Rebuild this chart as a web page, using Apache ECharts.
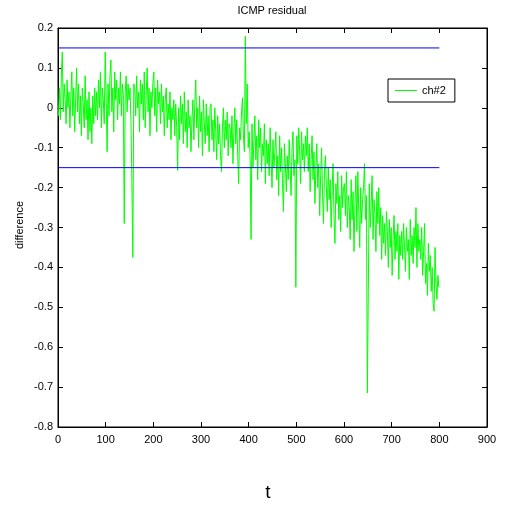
<!DOCTYPE html>
<html>
<head>
<meta charset="utf-8">
<script src="https://cdn.jsdelivr.net/npm/echarts@6/dist/echarts.min.js"></script>
<style>html,body{margin:0;padding:0;background:#fff;}#c{width:523px;height:507px;}</style>
</head>
<body>
<div id="c"></div>
<script>
// ---- data ----
var chartTitle = 'ICMP residual';
var xLabel = 't';
var yLabel = 'difference';
var seriesName = 'ch#2';
var tStart = 1, tStep = 2;
var residual = [
 -0.02, 0.05, -0.03, 0.08, 0.14, -0.01, 0.06, 0.02, -0.04, 0.07, 0.00, 0.04, -0.05, 0.03, 0.09, -0.02, 0.05, -0.06, 0.02, 0.10,
 -0.01, 0.06, -0.04, 0.03, -0.07, 0.05, 0.01, -0.05, 0.08, -0.03, 0.02, -0.08, 0.04, -0.06, 0.00, -0.09, 0.03, -0.04, 0.05, -0.02,
 0.04, -0.03, 0.07, 0.00, 0.09, -0.05, 0.05, 0.02, -0.04, 0.14, 0.03, -0.11, 0.06, -0.02, 0.08, 0.12, -0.01, 0.05, -0.06, 0.09,
 0.02, 0.07, -0.03, 0.05, 0.01, 0.09, -0.02, 0.06, 0.03, -0.29, 0.04, 0.08, -0.01, 0.06, 0.02, 0.05, -0.03, -0.19, -0.375, 0.06,
 0.05, -0.02, 0.08, 0.00, 0.04, -0.06, 0.07, 0.01, 0.06, -0.03, 0.09, -0.05, 0.03, 0.10, -0.01, 0.05, -0.07, 0.04, 0.00, 0.06,
 0.09, -0.02, 0.05, -0.06, 0.07, 0.01, 0.04, -0.04, 0.06, -0.01, 0.03, -0.07, 0.02, 0.05, -0.05, 0.01, -0.03, 0.04, -0.08, 0.00,
 -0.03, 0.02, -0.07, 0.01, -0.05, -0.157, 0.00, -0.08, 0.03, -0.04, 0.01, -0.09, 0.04, -0.06, -0.01, -0.10, 0.02, -0.05, -0.02, -0.11,
 -0.03, 0.02, -0.08, 0.01, 0.07, -0.05, 0.00, -0.10, 0.03, -0.06, -0.01, -0.12, 0.02, -0.04, -0.09, 0.01, -0.07, -0.02, -0.11, 0.00,
 0.01, -0.08, -0.03, -0.11, 0.00, -0.06, -0.13, -0.02, -0.09, -0.04, -0.12, -0.16, -0.05, 0.00, -0.10, -0.03, -0.08, -0.01, -0.12, -0.04,
 -0.05, -0.10, -0.02, -0.14, -0.06, 0.00, -0.09, -0.03, -0.12, -0.19, -0.05, -0.08, -0.01, 0.025, -0.07, -0.11, 0.18, -0.04, 0.06, -0.10,
 -0.06, -0.12, -0.33, -0.04, -0.15, -0.08, -0.02, -0.13, -0.07, -0.18, -0.03, -0.10, -0.05, -0.16, -0.09, -0.12, -0.04, -0.19, -0.08, -0.14,
 -0.09, -0.17, -0.05, -0.13, -0.20, -0.08, -0.15, -0.11, -0.06, -0.18, -0.12, -0.22, -0.07, -0.16, -0.10, -0.19, -0.26, -0.09, -0.14, -0.21,
 -0.12, -0.18, -0.08, -0.15, -0.22, -0.10, -0.06, -0.17, -0.13, -0.45, -0.07, -0.14, -0.05, -0.11, -0.19, -0.06, -0.13, -0.09, -0.16, -0.07,
 -0.12, -0.05, -0.16, -0.09, -0.21, -0.13, -0.07, -0.18, -0.11, -0.24, -0.15, -0.09, -0.20, -0.14, -0.27, -0.17, -0.10, -0.22, -0.29, -0.16,
 -0.12, -0.20, -0.26, -0.15, -0.23, -0.18, -0.30, -0.21, -0.14, -0.27, -0.34, -0.19, -0.24, -0.16, -0.28, -0.22, -0.31, -0.17, -0.25, -0.20,
 -0.19, -0.27, -0.16, -0.30, -0.22, -0.25, -0.33, -0.18, -0.28, -0.21, -0.36, -0.24, -0.17, -0.31, -0.16, -0.26, -0.35, -0.20, -0.29, -0.23,
 -0.20, -0.14, -0.28, -0.22, -0.715, -0.46, -0.19, -0.30, -0.24, -0.17, -0.33, -0.23, -0.27, -0.36, -0.21, -0.29, -0.20, -0.32, -0.25, -0.38,
 -0.27, -0.34, -0.29, -0.37, -0.26, -0.31, -0.40, -0.28, -0.35, -0.30, -0.42, -0.33, -0.27, -0.38, -0.31, -0.36, -0.29, -0.43, -0.32, -0.37,
 -0.31, -0.38, -0.29, -0.35, -0.41, -0.30, -0.36, -0.33, -0.43, -0.28, -0.37, -0.32, -0.39, -0.30, -0.35, -0.25, -0.40, -0.29, -0.36, -0.33,
 -0.38, -0.30, -0.42, -0.36, -0.29, -0.44, -0.39, -0.47, -0.34, -0.41, -0.37, -0.46, -0.40, -0.49, -0.51, -0.35, -0.44, -0.48, -0.42, -0.45
];
var thresholdUpper = 0.15;
var thresholdLower = -0.15;
var thresholdT = [1, 800];
var xTicks = [0, 900, 100];     // min, max, interval
var yTicks = [-0.8, 0.2, 0.1];  // min, max, interval

// ---- build ----
var residualPairs = residual.map(function (v, i) { return [tStart + i * tStep, v]; });
var upperPairs = thresholdT.map(function (t) { return [t, thresholdUpper]; });
var lowerPairs = thresholdT.map(function (t) { return [t, thresholdLower]; });

var FONT = 'Liberation Sans, Arial, Helvetica, sans-serif';
var chart = echarts.init(document.getElementById('c'), null, { renderer: 'canvas' });

function axisCommon(showLabel) {
  return {
    axisLine: { show: true, onZero: false, lineStyle: { color: '#000', width: 1 } },
    axisTick: { show: true, inside: true, length: 5, lineStyle: { color: '#000' } },
    splitLine: { show: false },
    axisLabel: { show: showLabel, color: '#000', fontFamily: FONT, fontSize: 11 }
  };
}

var xBottom = Object.assign(axisCommon(true), { type: 'value', position: 'bottom', min: xTicks[0], max: xTicks[1], interval: xTicks[2] });
xBottom.axisLabel.margin = 7;
var xTop = Object.assign(axisCommon(false), { type: 'value', position: 'top', min: xTicks[0], max: xTicks[1], interval: xTicks[2] });
var yLeft = Object.assign(axisCommon(true), { type: 'value', position: 'left', min: yTicks[0], max: yTicks[1], interval: yTicks[2] });
yLeft.axisLabel.margin = 5;
yLeft.axisLabel.formatter = function (v) { var s = (+v.toFixed(1)).toString(); return s === '-0' ? '0' : s; };
var yRight = Object.assign(axisCommon(false), { type: 'value', position: 'right', min: yTicks[0], max: yTicks[1], interval: yTicks[2] });

chart.setOption({
  animation: false,
  backgroundColor: '#fff',
  grid: { left: 58, right: 36, top: 28, bottom: 80, show: true, borderColor: '#000', borderWidth: 1, backgroundColor: '#fff' },
  xAxis: [xBottom, xTop],
  yAxis: [yLeft, yRight],
  legend: {
    data: [{ name: seriesName, icon: 'rect' }],
    left: 388, top: 79,
    orient: 'vertical',
    backgroundColor: '#fff',
    borderColor: '#000', borderWidth: 1, borderRadius: 0,
    padding: [6, 9, 6, 7],
    itemWidth: 22, itemHeight: 1, itemGap: 5,
    textStyle: { color: '#000', fontFamily: FONT, fontSize: 11 }
  },
  graphic: [
    { type: 'text', style: { text: chartTitle, fontFamily: FONT, fontSize: 11, fill: '#000', align: 'center', verticalAlign: 'middle' }, x: 272, y: 11, z: 10 },
    { type: 'text', x: 20, y: 225, rotation: Math.PI / 2, style: { text: yLabel, fontFamily: FONT, fontSize: 11, fill: '#000', align: 'center', verticalAlign: 'middle' }, z: 10 },
    { type: 'text', x: 268, y: 493, style: { text: xLabel, fontFamily: FONT, fontSize: 19, fill: '#000', align: 'center', verticalAlign: 'middle' }, z: 10 }
  ],
  series: [
    { name: seriesName, type: 'line', xAxisIndex: 0, yAxisIndex: 0, data: residualPairs, symbol: 'none', lineStyle: { color: '#00ff00', width: 1 }, itemStyle: { color: '#00ff00' }, z: 2 },
    { name: 'upper', type: 'line', xAxisIndex: 0, yAxisIndex: 0, data: upperPairs, symbol: 'none', lineStyle: { color: '#0000ff', width: 1 }, z: 3 },
    { name: 'lower', type: 'line', xAxisIndex: 0, yAxisIndex: 0, data: lowerPairs, symbol: 'none', lineStyle: { color: '#0000ff', width: 1 }, z: 3 }
  ]
});
</script>
</body>
</html>
